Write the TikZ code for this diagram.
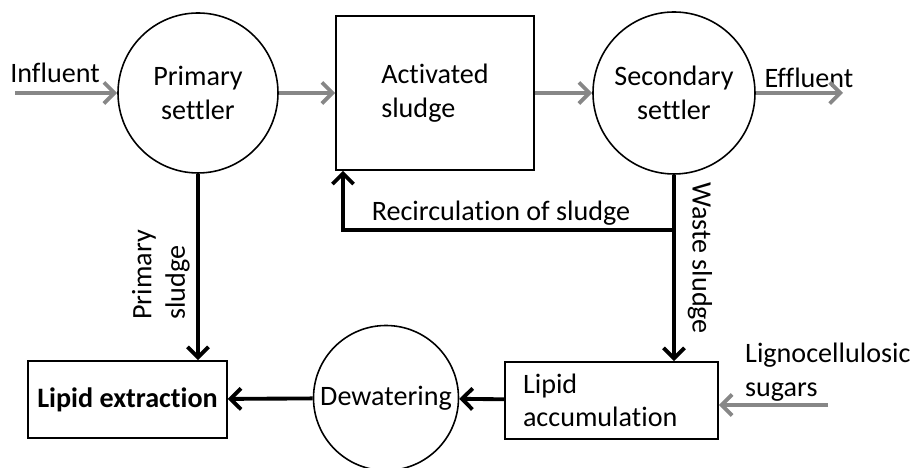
\documentclass[tikz,border=0pt]{standalone}
\usepackage{fontspec}
\setmainfont{Carlito}[Ligatures=NoCommon]
\usetikzlibrary{arrows.meta}
\definecolor{flowgray}{RGB}{135,135,135}
\begin{document}
\begin{tikzpicture}[
  font=\fontsize{16}{19}\selectfont,
  settler/.style={draw, circle, line width=0.9pt, minimum size=3.2cm, align=center, inner sep=0pt},
  unit/.style={draw, line width=0.9pt, minimum height=1.54cm},
  feed/.style={flowgray, line width=2.2pt, -{Straight Barb[length=6pt, width=12pt]}},
  sludge/.style={black, line width=2.2pt, -{Straight Barb[length=6pt, width=12pt]}},
]
  \useasboundingbox (0,0) rectangle (18.2,9.36);

  % water line
  \node[settler] (ps) at (3.96,7.5) {Primary\\settler};
  \node[unit, minimum width=3.96cm, minimum height=3.08cm, align=left] (as) at (8.7,7.5) {Activated\\sludge};
  \node[settler, minimum size=3.24cm] (ss) at (13.48,7.5) {Secondary\\settler};

  % sludge line
  \node[unit, minimum width=3.98cm, font=\fontsize{16}{19}\selectfont\bfseries] (le) at (2.55,1.37) {Lipid extraction};
  \node[settler, minimum size=2.9cm] (dw) at (7.72,1.4) {Dewatering};
  \node[unit, text width=3.54cm, inner xsep=0.36cm, align=left] (la) at (12.23,1.35) {Lipid\\accumulation};

  \coordinate (in) at (0.3,7.5);
  \coordinate (out) at (16.86,7.5);
  \coordinate (lig) at (16.56,1.26);
  \coordinate (split) at (13.48,4.76);
  \coordinate (back) at (6.86,4.76);

  \node (inlbl) at (1.1,7.9) {Influent};
  \node (outlbl) at (16.18,7.8) {Effluent};
  \node[align=left, anchor=west] (liglbl) at (14.78,1.92) {Lignocellulosic\\sugars};
  \node (reclbl) at (10.02,5.1) {Recirculation of sludge};
  \node[rotate=-90] (wslbl) at (14.0,4.2) {Waste sludge};
  \node[rotate=90, align=left, anchor=south west, inner sep=0pt] (pslbl) at (3.8,2.96) {Primary\\sludge};

  \draw[feed] (in) -- (ps);
  \draw[feed] (ps) -- (as);
  \draw[feed] (as) -- (ss);
  \draw[feed] (ss) -- (out);
  \draw[feed] (lig) -- (la.east |- lig);

  \draw[sludge] (ps) -- (ps |- le.north);
  \draw[sludge] (ss) -- (la.north -| ss);
  \draw[sludge] (split) -- (back) -- (back |- as.south);
  \draw[sludge] (la) -- (dw);
  \draw[sludge] (dw) -- (le);
\end{tikzpicture}
\end{document}
